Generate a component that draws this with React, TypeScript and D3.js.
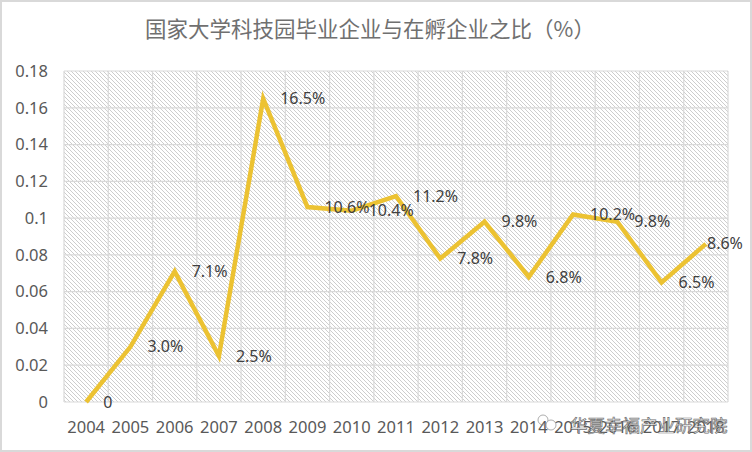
import React from 'react';
import * as d3 from 'd3';

const years = ['2004', '2005', '2006', '2007', '2008', '2009', '2010', '2011', '2012', '2013', '2014', '2015', '2016', '2017', '2018'];
const ratios = [0, 0.030, 0.071, 0.025, 0.165, 0.106, 0.104, 0.112, 0.078, 0.098, 0.068, 0.102, 0.098, 0.065, 0.086];
const yTicks = [0, 0.02, 0.04, 0.06, 0.08, 0.1, 0.12, 0.14, 0.16, 0.18];
const title = '国家大学科技园毕业企业与在孵企业之比（%）';
const watermark = '华夏幸福产业研究院';

const width = 752;
const height = 452;
const margin = { top: 71, right: 24, bottom: 50, left: 64 };

const numFont = '"Noto Sans", "DejaVu Sans", sans-serif';

const App: React.FC = () => {
  const x = d3.scaleBand<string>()
    .domain(years)
    .range([margin.left, width - margin.right])
    .padding(0);
  const y = d3.scaleLinear()
    .domain([0, 0.18])
    .range([height - margin.bottom, margin.top]);

  const cx = (yr: string) => (x(yr) ?? 0) + x.bandwidth() / 2;
  const points = years.map((yr, i) => ({ yr, v: ratios[i] }));

  const line = d3.line<{ yr: string; v: number }>()
    .x(d => cx(d.yr))
    .y(d => y(d.v));

  const fmt = (v: number) => (v === 0 ? '0' : (v * 100).toFixed(1) + '%');

  const plotTop = y(0.18);
  const plotBottom = y(0);

  return (
    <div style={{ position: 'fixed', left: 0, top: 0, width, height, overflow: 'hidden', background: '#fff' }}>
      <svg width={width} height={height} style={{ display: 'block' }}>
        <defs>
          <pattern id="hatch" patternUnits="userSpaceOnUse" width={4} height={4}>
            <path d="M-1,-1 L5,5 M-1,3 L1,5 M3,-1 L5,1" stroke="#cdcdcd" strokeWidth={1} />
          </pattern>
        </defs>

        {/* chart frame */}
        <rect x={1} y={1} width={width - 2} height={height - 2} fill="#fff" stroke="#d9d9d9" strokeWidth={2} />

        {/* title */}
        <text
          x={370}
          y={37}
          textAnchor="middle"
          fill="#707070"
          style={{ fontFamily: '"Noto Sans CJK SC", sans-serif', fontSize: 21.5 }}
        >
          {title}
        </text>

        {/* plot background */}
        <rect
          x={margin.left}
          y={plotTop}
          width={width - margin.left - margin.right}
          height={plotBottom - plotTop}
          fill="url(#hatch)"
        />

        {/* horizontal gridlines */}
        {yTicks.map(t => (
          <line
            key={'h' + t}
            x1={margin.left}
            x2={width - margin.right}
            y1={y(t)}
            y2={y(t)}
            stroke="#d9d9d9"
            strokeWidth={1.2}
          />
        ))}

        {/* vertical gridlines at category boundaries */}
        {years.concat(['end']).map((yr, i) => {
          const xx = i < years.length ? (x(yr) ?? 0) : width - margin.right;
          return (
            <line
              key={'v' + yr}
              x1={xx}
              x2={xx}
              y1={plotTop}
              y2={plotBottom}
              stroke="#d9d9d9"
              strokeWidth={1.2}
            />
          );
        })}

        {/* y tick labels */}
        {yTicks.map(t => (
          <text
            key={'yt' + t}
            x={48}
            y={y(t)}
            dy="0.35em"
            textAnchor="end"
            fill="#595959"
            style={{ fontFamily: numFont, fontSize: 16.5 }}
          >
            {String(t)}
          </text>
        ))}

        {/* x tick labels */}
        {years.map(yr => (
          <text
            key={'xt' + yr}
            x={cx(yr)}
            y={433}
            textAnchor="middle"
            fill="#595959"
            style={{ fontFamily: numFont, fontSize: 16.5 }}
          >
            {yr}
          </text>
        ))}

        {/* series line */}
        <path
          d={line(points) ?? ''}
          fill="none"
          stroke="#ecc232"
          strokeWidth={4.5}
          strokeLinejoin="miter"
        />

        {/* data labels, kept inside the chart frame like Excel does */}
        {points.map(p => (
          <text
            key={'dl' + p.yr}
            x={Math.min(cx(p.yr) + 17, 707)}
            y={y(p.v)}
            dy="0.35em"
            fill="#404040"
            style={{ fontFamily: numFont, fontSize: 16 }}
          >
            {fmt(p.v)}
          </text>
        ))}

        {/* watermark */}
        <g opacity={0.85}>
          <circle cx={543} cy={420} r={5} fill="none" stroke="#888" strokeWidth={0.8} />
          <circle cx={551} cy={425} r={5} fill="#fff" stroke="#888" strokeWidth={0.8} />
          <text
            x={570}
            y={432}
            fill="#fff"
            stroke="#555"
            strokeWidth={0.7}
            style={{ fontFamily: '"Noto Sans CJK SC", sans-serif', fontSize: 17.5 }}
          >
            {watermark}
          </text>
        </g>
      </svg>
    </div>
  );
};

export default App;
